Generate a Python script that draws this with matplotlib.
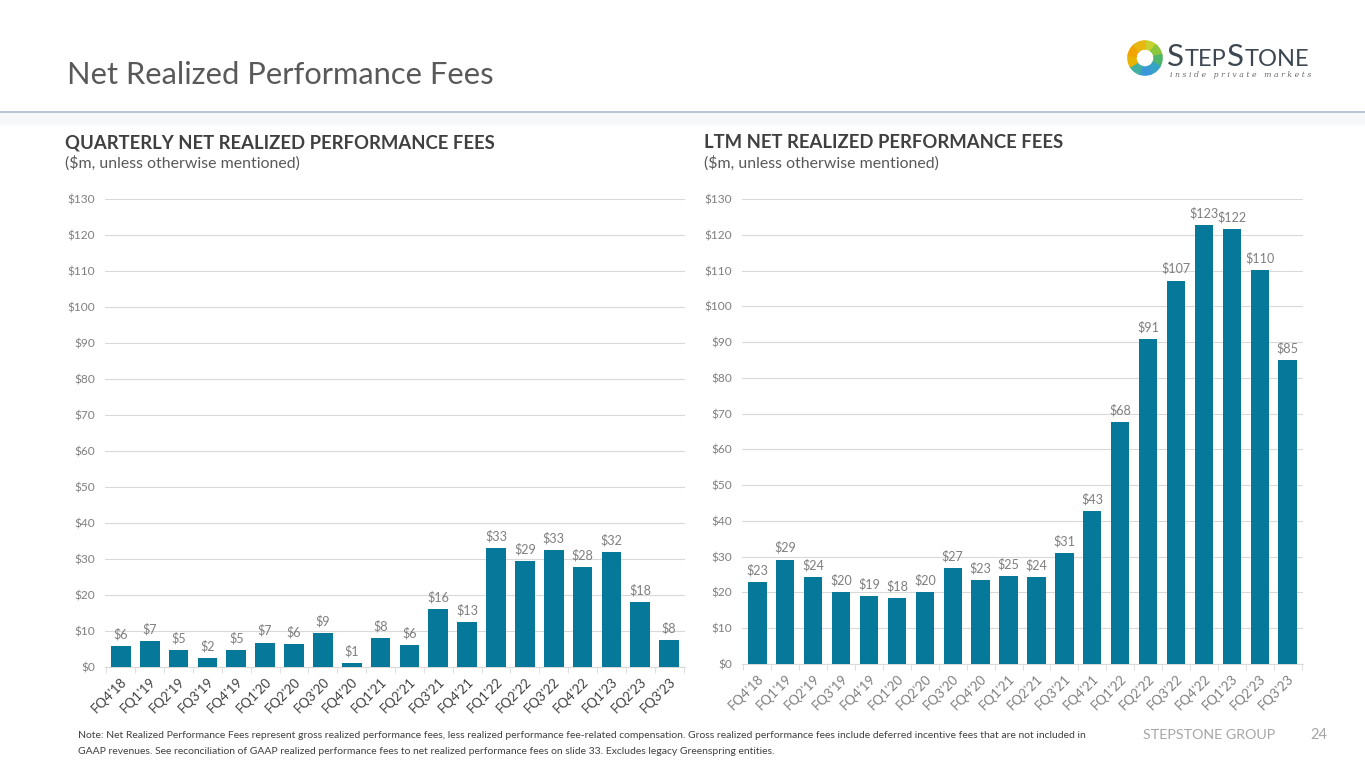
import numpy as np
import matplotlib
matplotlib.use("Agg")
import matplotlib.pyplot as plt
from matplotlib.patches import Wedge, Rectangle

plt.rcParams['font.family'] = ['Lato', 'DejaVu Sans']

quarters = ["FQ4'18", "FQ1'19", "FQ2'19", "FQ3'19", "FQ4'19", "FQ1'20", "FQ2'20",
            "FQ3'20", "FQ4'20", "FQ1'21", "FQ2'21", "FQ3'21", "FQ4'21", "FQ1'22",
            "FQ2'22", "FQ3'22", "FQ4'22", "FQ1'23", "FQ2'23", "FQ3'23"]
quarterly = [5.9, 7.3, 4.6, 2.4, 4.7, 6.8, 6.3, 9.4, 1.0, 8.0, 6.1, 16.2, 12.6,
             33.0, 29.4, 32.6, 27.9, 32.0, 18.0, 7.6]
ltm = [22.9, 29.2, 24.3, 20.2, 18.9, 18.4, 20.1, 26.9, 23.4, 24.6, 24.4, 31.1,
       42.7, 67.6, 90.9, 107.2, 122.6, 121.6, 110.1, 85.1]
yticks = list(range(0, 131, 10))

BAR = '#06799a'
GREY = '#7f7f7f'
DARK = '#595959'

W, H = 1365, 768
fig = plt.figure(figsize=(W / 100, H / 100), dpi=100)
fig.patch.set_facecolor('white')


def px(x, y):
    return x / W, 1 - y / H


def draw_panel(rect, vals, tick_color, width):
    ax = fig.add_axes(rect)
    x = np.arange(len(vals))
    ax.bar(x, vals, width=width, color=BAR, zorder=3)
    for xi, v in zip(x, vals):
        ax.annotate("$%.0f" % v, (xi, v), xytext=(0, 4), textcoords='offset points',
                    ha='center', va='bottom', fontsize=9.1, color=GREY)
    ax.set_ylim(0, 130)
    ax.set_xlim(-0.55, len(vals) - 0.45)
    ax.set_yticks(yticks)
    ax.set_yticklabels(["$%d" % t for t in yticks])
    ax.yaxis.grid(True, color='#d9d9d9', linewidth=0.8, zorder=0)
    ax.set_xticks(x)
    ax.set_xticklabels(quarters, rotation=45, ha='right', rotation_mode='anchor',
                       fontsize=9.5, color=tick_color)
    ax.set_xticks(np.arange(-0.5, len(vals), 1.0), minor=True)
    ax.tick_params(axis='x', which='major', length=0, pad=6)
    ax.tick_params(axis='x', which='minor', length=4, color='#d9d9d9')
    ax.tick_params(axis='y', length=0, labelsize=8.6, labelcolor=GREY, pad=7)
    for s in ['top', 'right', 'left']:
        ax.spines[s].set_visible(False)
    ax.spines['bottom'].set_color('#d9d9d9')
    ax.set_axisbelow(True)
    return ax


# left panel: quarterly
draw_panel([105 / W, 1 - 667 / H, 580 / W, 468 / H], quarterly, '#404040', 0.68)
# right panel: LTM
draw_panel([742 / W, 1 - 664 / H, 561 / W, 465 / H], ltm, GREY, 0.66)

# header
fig.text(*px(67, 75), "Net Realized Performance Fees", fontsize=22.2, color=DARK,
         va='center', ha='left')
fig.add_artist(plt.Line2D([0, 1], [1 - 112 / H] * 2, color='#a9bccf', linewidth=1.2))
fig.add_artist(Rectangle((0, 1 - 124 / H), 1, 11 / H, color='#f6f8fa', zorder=0,
                         transform=fig.transFigure))

fig.text(*px(65, 143), "QUARTERLY NET REALIZED PERFORMANCE FEES", fontsize=13.3,
         fontweight='bold', color='#404040', va='center')
fig.text(*px(65, 163), "($m, unless otherwise mentioned)", fontsize=11.4,
         color=DARK, va='center')
fig.text(*px(704, 143), "LTM NET REALIZED PERFORMANCE FEES", fontsize=13.3,
         fontweight='bold', color='#404040', va='center')
fig.text(*px(704, 163), "($m, unless otherwise mentioned)", fontsize=11.4,
         color=DARK, va='center')

# logo ring
lax = fig.add_axes([1127 / W, 1 - 76 / H, 36 / W, 36 / H])
lax.set_xlim(-1, 1)
lax.set_ylim(-1, 1)
lax.set_aspect('equal')
lax.axis('off')
# clockwise from the top
ring = ['#c8d12e', '#8cc63f', '#4fb56a', '#35a3c8', '#3a98d8', '#42b0a0',
        '#e8b400', '#f0a400', '#e8b810']
step = 360 / len(ring)
for i, c in enumerate(ring):
    lax.add_patch(Wedge((0, 0), 0.95, 90 - (i + 1) * step - 1, 90 - i * step + 1,
                        width=0.45, color=c))

renderer = fig.canvas.get_renderer()
xpos = 1167
for part, size in [("S", 22.5), ("TEP", 17), ("S", 22.5), ("TONE", 17)]:
    t = fig.text(xpos / W, 1 - 66 / H, part, fontsize=size, color='#3d4752',
                 va='baseline', ha='left')
    bb = t.get_window_extent(renderer)
    xpos += bb.width + 0.5
fig.text(*px(1170, 75), "i n s i d e   p r i v a t e   m a r k e t s",
         fontsize=5.6, style='italic', family='DejaVu Serif', color='#6b6b6b',
         va='center')

# footer
fig.text(*px(78, 735), "Note: Net Realized Performance Fees represent gross realized performance fees, "
         "less realized performance fee-related compensation. Gross realized performance fees include "
         "deferred incentive fees that are not included in", fontsize=7.45, color='#404040', va='center')
fig.text(*px(78, 752), "GAAP revenues. See reconciliation of GAAP realized performance fees to net "
         "realized performance fees on slide 33. Excludes legacy Greenspring entities.",
         fontsize=7.45, color='#404040', va='center')
fig.text(*px(1143, 735), "STEPSTONE GROUP", fontsize=10.3, color='#a6a6a6', va='center')
fig.text(*px(1310, 735), "24", fontsize=10.5, color='#a6a6a6', va='center')

fig.savefig('out.png', dpi=100)
